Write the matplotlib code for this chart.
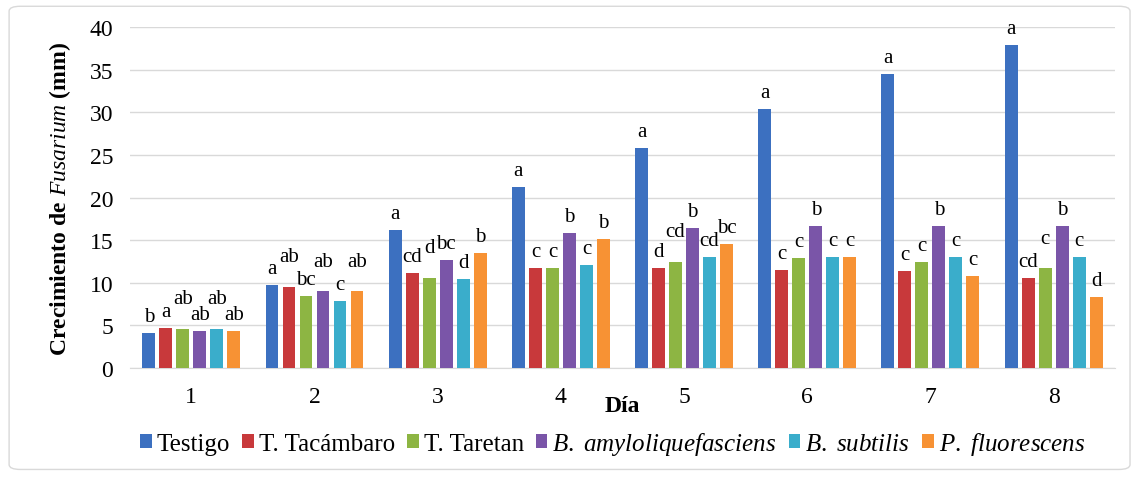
import matplotlib.pyplot as plt
from matplotlib.patches import FancyBboxPatch
import numpy as np

plt.rcParams['font.family'] = ['Liberation Serif', 'DejaVu Serif']
plt.rcParams['mathtext.fontset'] = 'custom'
plt.rcParams['mathtext.rm'] = 'Liberation Serif'
plt.rcParams['mathtext.it'] = 'Liberation Serif:italic'
plt.rcParams['mathtext.bf'] = 'Liberation Serif:bold'
plt.rcParams['mathtext.bfit'] = 'Liberation Serif:bold:italic'

days = ["1", "2", "3", "4", "5", "6", "7", "8"]
legend_labels = ["Testigo", "T. Tacámbaro", "T. Taretan",
                 r"$\it{B.\ amyloliquefasciens}$", r"$\it{B.\ subtilis}$",
                 r"$\it{P.\ fluorescens}$"]
colors = ["#3C70C0", "#C8393B", "#8DB543", "#7A55A8", "#3AADCB", "#F79234"]

testigo = [4.1, 9.8, 16.2, 21.3, 25.8, 30.4, 34.5, 37.9]
tacambaro = [4.7, 9.5, 11.2, 11.7, 11.7, 11.5, 11.4, 10.6]
taretan = [4.6, 8.5, 10.6, 11.7, 12.5, 12.9, 12.4, 11.7]
amylo = [4.4, 9.0, 12.7, 15.8, 16.4, 16.7, 16.7, 16.7]
subtilis = [4.6, 7.9, 10.5, 12.1, 13.0, 13.0, 13.0, 13.0]
fluorescens = [4.3, 9.0, 13.5, 15.2, 14.6, 13.0, 10.8, 8.3]

letters_testigo = ["b", "a", "a", "a", "a", "a", "a", "a"]
letters_tacambaro = ["a", "ab", "cd", "c", "d", "c", "c", "cd"]
letters_taretan = ["ab", "bc", "d", "c", "cd", "c", "c", "c"]
letters_amylo = ["ab", "ab", "bc", "b", "b", "b", "b", "b"]
letters_subtilis = ["ab", "c", "d", "c", "cd", "c", "c", "c"]
letters_fluorescens = ["ab", "ab", "b", "b", "bc", "c", "c", "d"]

values = [testigo, tacambaro, taretan, amylo, subtilis, fluorescens]
letters = [letters_testigo, letters_tacambaro, letters_taretan, letters_amylo,
           letters_subtilis, letters_fluorescens]

fig = plt.figure(figsize=(11.38, 4.85), dpi=100)
ax = fig.add_axes([0.114, 0.239, 0.866, 0.703])

x = np.arange(len(days))
step = 0.138
width = 0.105
for i, (vals, labs) in enumerate(zip(values, letters)):
    pos = x + (i - 2.5) * step
    ax.bar(pos, vals, width, color=colors[i], label=legend_labels[i], zorder=3)

# letters over the bars, lifted a bit when two-letter labels crowd together
for d in range(len(days)):
    prev_top = None
    for i in range(len(values)):
        p = x[d] + (i - 2.5) * step
        v = values[i][d]
        t = letters[i][d]
        off = 5
        if prev_top is not None and abs(prev_top[0] - v) < 1.5 and \
                (len(t) > 1 or len(prev_top[1]) > 1) and prev_top[2] == 5:
            off = 15
        ax.annotate(t, (p, v), xytext=(0, off), textcoords="offset points",
                    ha="center", va="bottom", fontsize=15)
        prev_top = (v, t, off)

ax.set_xlim(-0.5, 7.5)
ax.set_ylim(0, 40)
ax.set_yticks(range(0, 41, 5))
ax.set_xticks(x)
ax.set_xticklabels(days)
ax.tick_params(axis="x", length=0, labelsize=17, pad=13)
ax.tick_params(axis="y", length=0, labelsize=17, pad=12)
ax.yaxis.grid(True, color="#d9d9d9", linewidth=1, zorder=0)
for s in ["top", "right", "left"]:
    ax.spines[s].set_visible(False)
ax.spines["bottom"].set_color("#d9d9d9")

ax.set_ylabel(r"Crecimiento de $\bf{\it{Fusarium}}$ (mm)", fontsize=17,
              fontweight="bold", labelpad=12)
ax.set_xlabel("Día", fontsize=17, fontweight="bold", labelpad=-9)

ax.legend(loc="upper center", bbox_to_anchor=(0.49, -0.115), ncol=6,
          frameon=False, fontsize=18, handlelength=0.45, handleheight=0.45,
          handletextpad=0.2, columnspacing=0.5)

fig.patches.append(FancyBboxPatch((0.008, 0.03), 0.985, 0.955,
                                  boxstyle="round,pad=0,rounding_size=0.01",
                                  transform=fig.transFigure, fill=False,
                                  edgecolor="#d9d9d9", linewidth=1))

plt.savefig("out.png", dpi=100)
